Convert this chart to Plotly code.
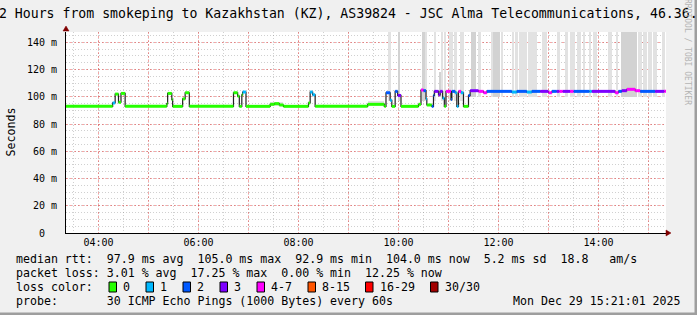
import plotly.graph_objects as go
from datetime import datetime, timedelta

DAY = "2025-12-29"
T_START = "03:21:01"
T_END = "15:21:01"

TITLE = "12 Hours from smokeping to Kazakhstan (KZ), AS39824 - JSC Alma Telecommunications, 46.36."

# ---- median rtt (ms) as steps: start time, value, loss class ----
seg_start = ["03:21", "04:17", "04:20", "04:24", "04:27", "04:32", "05:22", "05:23", "05:28", "05:29",
             "05:41", "05:44", "05:49", "06:42", "06:47", "06:49", "06:52", "06:53", "06:57", "07:26",
             "07:31", "07:37", "07:42", "08:12", "08:14", "08:17", "08:20", "09:23", "09:43", "09:45",
             "09:50", "09:52", "09:56", "09:59", "10:03", "10:24", "10:27", "10:30", "10:33", "10:34",
             "10:40", "10:42", "10:43", "10:48", "10:50", "10:53", "10:55", "10:57", "11:03", "11:04",
             "11:08", "11:10", "11:12", "11:15", "11:18", "11:24", "11:26", "11:36", "11:42", "11:46",
             "12:16", "12:22", "12:34", "12:40", "12:50", "13:00", "13:04", "13:10", "13:13", "13:17",
             "13:26", "13:30", "13:49", "13:52", "14:20", "14:24", "14:28", "14:34", "14:44", "14:50",
             "15:08", "15:19"]
seg_rtt = [93.0, 95.5, 102.0, 96.0, 102.5, 93.0, 95.0, 102.5, 98.0, 93.0,
           98.5, 103.0, 93.0, 103.0, 100.5, 93.0, 101.5, 103.5, 93.0, 94.5,
           95.0, 94.0, 93.0, 95.5, 103.5, 101.5, 93.0, 94.5, 93.0, 103.0,
           97.5, 93.0, 104.0, 101.0, 93.0, 94.5, 105.0, 104.5, 98.5, 94.0,
           93.0, 101.0, 104.0, 101.5, 104.0, 99.0, 93.0, 104.0, 98.0, 104.0,
           103.0, 93.0, 104.0, 103.0, 93.0, 101.0, 104.5, 104.0, 103.0, 104.0,
           103.5, 104.0, 103.5, 104.0, 104.0, 103.0, 104.0, 104.0, 104.0, 104.0,
           104.0, 104.0, 104.0, 104.0, 103.0, 104.0, 104.5, 105.5, 104.5, 104.0,
           104.0, 104.0]
seg_loss = [0, 1, 0, 0, 0, 0, 0, 0, 0, 0,
            0, 0, 0, 0, 0, 0, 0, 1, 0, 0,
            0, 0, 0, 0, 1, 1, 0, 0, 0, 2,
            1, 0, 2, 3, 0, 0, 4, 2, 1, 0,
            2, 2, 3, 3, 3, 1, 0, 4, 2, 2,
            1, 1, 4, 1, 0, 2, 3, 4, 4, 2,
            1, 2, 1, 2, 3, 4, 2, 3, 4, 3,
            4, 2, 1, 3, 4, 2, 3, 4, 4, 2,
            3, 4]

# ---- smoke (ping spread), ms ----
smoke_start = ["07:26", "09:23", "09:48", "09:59", "10:28", "10:33", "10:43", "10:49", "10:51", "10:55",
               "11:01", "11:07", "11:14", "11:27", "11:36", "11:52", "11:54", "12:04", "12:16", "12:21",
               "12:25", "12:36", "12:52", "13:10", "13:20", "13:26", "13:34", "13:42", "13:49", "13:53",
               "14:12", "14:22", "14:27", "14:48", "14:54", "15:00", "15:06", "15:16"]
smoke_end = ["07:42", "09:43", "09:51", "10:02", "10:32", "10:34", "10:45", "10:50", "10:54", "10:57",
             "11:06", "11:10", "11:19", "11:33", "11:39", "11:54", "12:02", "12:06", "12:19", "12:23",
             "12:34", "12:46", "12:58", "13:14", "13:23", "13:32", "13:39", "13:44", "13:51", "13:58",
             "14:16", "14:24", "14:46", "14:52", "14:58", "15:04", "15:10", "15:20"]
smoke_low = [93.0, 93.0, 97.0, 97.0, 97.0, 97.0, 97.0, 100.0, 97.0, 97.0,
             97.0, 97.0, 97.0, 100.0, 100.0, 100.0, 100.0, 100.0, 100.0, 100.0,
             100.0, 100.0, 100.0, 100.0, 100.0, 100.0, 100.0, 100.0, 100.0, 100.0,
             100.0, 100.0, 100.0, 100.0, 100.0, 100.0, 100.0, 100.0]
smoke_high = [96.5, 97.0, 160, 160, 160, 160, 160, 118, 160, 160,
              160, 160, 160, 160, 160, 160, 160, 160, 160, 160,
              160, 160, 160, 160, 160, 160, 160, 160, 160, 160,
              160, 160, 160, 160, 160, 160, 160, 160]
smoke_shade = [0, 0, 0, 1, 1, 0, 0, 1, 0, 0,
               0, 0, 0, 1, 0, 0, 1, 0, 0, 0,
               0, 0, 0, 0, 0, 0, 0, 0, 0, 0,
               0, 0, 1, 0, 0, 0, 0, 0]

loss_labels = ["0", "1", "2", "3", "4-7", "8-15", "16-29", "30/30"]
loss_colors = ["#26ff00", "#00b8ff", "#0059ff", "#7e00ff", "#ff00ff", "#ff5500", "#ff0000", "#a10000"]

y_tickvals = [0, 20, 40, 60, 80, 100, 120, 140]
y_ticktext = ["0<span style='color:rgba(0,0,0,0)'>_m</span>", "20 m", "40 m", "60 m", "80 m",
              "100 m", "120 m", "140 m"]
x_hours = list(range(4, 16))

legend_rtt = "median rtt:  97.9 ms avg  105.0 ms max  92.9 ms min  104.0 ms now  5.2 ms sd  18.8   am/s"
legend_loss = "packet loss: 3.01 % avg  17.25 % max  0.00 % min  12.25 % now"
legend_probe = "probe:       30 ICMP Echo Pings (1000 Bytes) every 60s"
legend_date = "Mon Dec 29 15:21:01 2025"


def t(hm):
    parts = hm.split(":")
    h, m = int(parts[0]), int(parts[1])
    s = int(parts[2]) if len(parts) > 2 else 0
    return datetime(2025, 12, 29, h, m, s)


t0, t1 = t(T_START), t(T_END)

# layout geometry (pixels)
W, H = 697, 315
L, R, TOP, BOT = 66, 666, 32, 233


def px(xp):
    return (xp - L) / (R - L)


def py(yp):
    return (BOT - yp) / (BOT - TOP)


def nb(s):
    return s.replace(" ", "\u00a0")


fig = go.Figure()

# smoke bars
for shade, col in [(0, "#e2e2e2"), (1, "#d2d2d2")]:
    xs, ys, bs, ws = [], [], [], []
    for a, b, lo, hi, sh in zip(smoke_start, smoke_end, smoke_low, smoke_high, smoke_shade):
        if sh != shade:
            continue
        ta, tb = t(a), t(b)
        xs.append(ta + (tb - ta) / 2)
        ws.append((tb - ta).total_seconds() * 1000)
        bs.append(lo)
        ys.append(hi - lo)
    fig.add_trace(go.Bar(x=xs, y=ys, base=bs, width=ws, marker=dict(color=col, line=dict(width=0)),
                         showlegend=False, hoverinfo="skip"))

# dark median line (steps)
ends = seg_start[1:] + [T_END]
lx = [t(s) for s in seg_start] + [t1]
ly = seg_rtt + [seg_rtt[-1]]
fig.add_trace(go.Scatter(x=lx, y=ly, mode="lines", line=dict(color="#202020", width=1.2, shape="hv"),
                         showlegend=False, hoverinfo="skip"))

# coloured loss segments
for k, col in enumerate(loss_colors):
    xs, ys = [], []
    for s, e, v, lc in zip(seg_start, ends, seg_rtt, seg_loss):
        if lc != k:
            continue
        xs += [t(s), t(e), None]
        ys += [v, v, None]
    if xs:
        fig.add_trace(go.Scatter(x=xs, y=ys, mode="lines", line=dict(color=col, width=3),
                                 showlegend=False, hoverinfo="skip"))

MONO = "DejaVu Sans Mono"
grid_major = "rgba(229,0,0,0.35)"
grid_minor = "rgba(120,120,120,0.35)"

fig.update_layout(
    width=W, height=H,
    margin=dict(l=L, r=W - R, t=TOP, b=H - BOT, pad=0),
    paper_bgcolor="#f0f0f0", plot_bgcolor="#ffffff",
    barmode="overlay", bargap=0,
    font=dict(family=MONO, size=10, color="#000000"),
    xaxis=dict(type="date", range=[t0, t1], tickmode="array",
               tickvals=[t("%02d:00" % h) for h in x_hours],
               ticktext=[("%02d:00" % h) if h % 2 == 0 else "" for h in x_hours],
               showgrid=True, gridcolor=grid_major, griddash="2px,2px", gridwidth=1,
               minor=dict(tickmode="linear", tick0=t("04:30"), dtick=30 * 60 * 1000, showgrid=True,
                          gridcolor=grid_minor, griddash="1px,2px", gridwidth=1),
               showline=True, linecolor="#000000", linewidth=1, zeroline=False, ticks="",
               tickfont=dict(family=MONO, size=10, color="#000000"), fixedrange=True),
    yaxis=dict(range=[0, 147.6], tickmode="array", tickvals=y_tickvals, ticktext=y_ticktext,
               showgrid=True, gridcolor=grid_major, griddash="2px,2px", gridwidth=1,
               minor=dict(tickmode="linear", tick0=0, dtick=5, showgrid=True,
                          gridcolor=grid_minor, griddash="1px,2px", gridwidth=1),
               showline=True, linecolor="#000000", linewidth=1, zeroline=False, ticks="",
               ticklabelstandoff=6,
               tickfont=dict(family=MONO, size=10, color="#000000"), fixedrange=True),
)

ann = []
# title
ann.append(dict(text=nb(TITLE), x=px(-10), y=py(13.5), xanchor="left", yanchor="middle",
                font=dict(family=MONO, size=13.2, color="#000000")))
# y-axis title
ann.append(dict(text="Seconds", x=px(10), y=py(132.5), xanchor="center", yanchor="middle",
                textangle=-90, font=dict(family=MONO, size=11.6, color="#000000")))
# watermark
ann.append(dict(text=nb("RRDTOOL / TOBI OETIKER"), x=px(688), y=py(52), xanchor="center", yanchor="middle",
                textangle=90, font=dict(family=MONO, size=8, color="#b4b4b4")))
# legend lines
for txt, yy in [(legend_rtt, 258.5), (legend_loss, 272.5), ("loss color:", 286.5), (legend_probe, 300.5)]:
    ann.append(dict(text=nb(txt), x=px(14.5), y=py(yy), xanchor="left", yanchor="middle",
                    font=dict(family=MONO, size=11.6, color="#000000")))
ann.append(dict(text=nb(legend_date), x=px(682), y=py(300.5), xanchor="right", yanchor="middle",
                font=dict(family=MONO, size=11.6, color="#000000")))

sq_x = [109, 146, 183, 220, 257, 308, 365.5, 430.5]
shapes = []
for xx, lab, col in zip(sq_x, loss_labels, loss_colors):
    shapes.append(dict(type="rect", xref="paper", yref="paper", x0=px(xx), x1=px(xx + 7.5),
                       y0=py(292), y1=py(282), fillcolor=col, line=dict(color="#000000", width=1)))
    ann.append(dict(text=lab, x=px(xx + 13), y=py(286.5), xanchor="left", yanchor="middle",
                    font=dict(family=MONO, size=11.6, color="#000000")))

for a in ann:
    a.update(xref="paper", yref="paper", showarrow=False, borderpad=0)
fig.update_layout(annotations=ann)

# axis arrows
shapes.append(dict(type="path", xref="paper", yref="paper",
                   path="M %f,%f L %f,%f L %f,%f Z" % (px(666), py(230), px(671), py(233), px(666), py(236)),
                   fillcolor="#800000", line=dict(color="#800000", width=0.5)))
shapes.append(dict(type="path", xref="paper", yref="paper",
                   path="M %f,%f L %f,%f L %f,%f Z" % (px(63), py(31), px(66), py(26), px(69), py(31)),
                   fillcolor="#800000", line=dict(color="#800000", width=0.5)))
# 3D frame
shapes.append(dict(type="rect", xref="paper", yref="paper", x0=px(694.5), x1=px(697), y0=py(315), y1=py(0),
                   fillcolor="#9e9e9e", line=dict(width=0), layer="above"))
shapes.append(dict(type="rect", xref="paper", yref="paper", x0=px(0), x1=px(697), y0=py(315), y1=py(312.5),
                   fillcolor="#9e9e9e", line=dict(width=0), layer="above"))
fig.update_layout(shapes=shapes)

fig.write_html("out.html", include_plotlyjs=True, config={"displayModeBar": False})
